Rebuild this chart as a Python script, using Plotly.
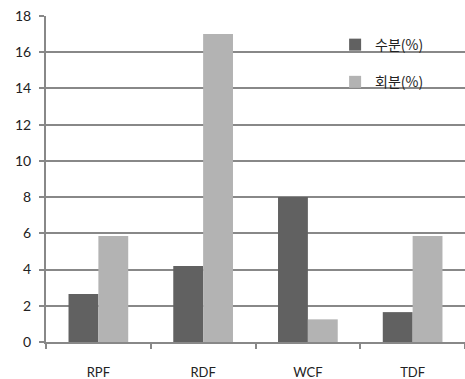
import plotly.graph_objects as go

categories = ["RPF", "RDF", "WCF", "TDF"]
moisture = [2.65, 4.2, 8.0, 1.65]
ash = [5.85, 17.0, 1.25, 5.85]
series_names = ["수분(%)", "회분(%)"]
y_ticks = [0, 2, 4, 6, 8, 10, 12, 14, 16, 18]

fig = go.Figure()
fig.add_trace(go.Bar(x=categories, y=moisture, name=series_names[0],
                     marker=dict(color="#616161", line=dict(width=0)), legendgroup="a"))
fig.add_trace(go.Bar(x=categories, y=ash, name=series_names[1],
                     marker=dict(color="#b3b3b3", line=dict(width=0)), legendgroup="b"))

fig.update_layout(
    width=465, height=379,
    margin=dict(l=46, r=0, t=16, b=37),
    paper_bgcolor="white", plot_bgcolor="white",
    barmode="group", bargap=0.43, bargroupgap=0,
    font=dict(family="Lato, Noto Sans CJK KR, sans-serif", size=13, color="#222"),
    showlegend=True,
    legend=dict(x=0.69, y=0.96, xanchor="left", yanchor="top",
                bgcolor="rgba(0,0,0,0)", tracegroupgap=16,
                font=dict(family="Noto Sans CJK KR, sans-serif", size=14, color="#222"),
                itemwidth=30),
    xaxis=dict(showline=True, linecolor="#888", linewidth=2,
               ticks="outside", tickson="boundaries", ticklen=5, tickcolor="#888", tickwidth=2,
               ticklabelstandoff=17, showgrid=False, fixedrange=True,
               tickfont=dict(size=13)),
    yaxis=dict(range=[0, 18], tickvals=y_ticks, showline=True, linecolor="#888", linewidth=2,
               ticks="outside", ticklen=5, tickcolor="#888", tickwidth=2,
               showgrid=True, gridcolor="#888", gridwidth=2, zeroline=False,
               ticklabelstandoff=5, fixedrange=True, tickfont=dict(size=14)),
)

fig.write_html("out.html")
